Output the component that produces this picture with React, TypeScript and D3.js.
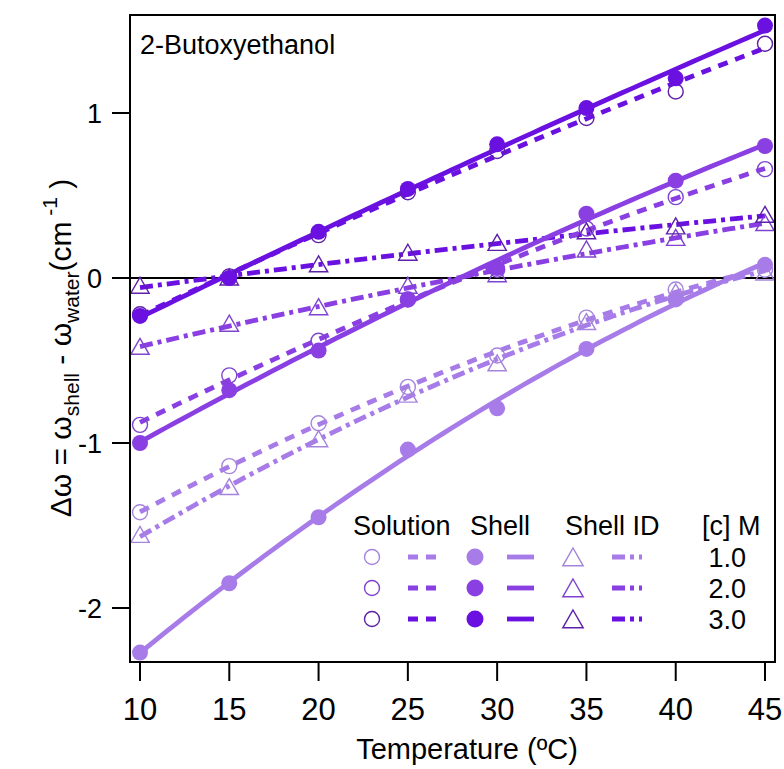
import * as React from "react";
import * as d3 from "d3";

const temps = [10, 15, 20, 25, 30, 35, 40, 45];
const concLabels = ["1.0", "2.0", "3.0"];

const solution1 = [-1.42, -1.14, -0.88, -0.66, -0.47, -0.24, -0.07, 0.05];
const solution2 = [-0.89, -0.59, -0.38, -0.13, 0.05, 0.3, 0.49, 0.66];
const solution3 = [-0.22, 0.01, 0.26, 0.52, 0.77, 0.97, 1.13, 1.42];
const shell1 = [-2.27, -1.85, -1.45, -1.04, -0.79, -0.43, -0.13, 0.08];
const shell2 = [-1.0, -0.68, -0.44, -0.13, 0.06, 0.39, 0.59, 0.8];
const shell3 = [-0.23, 0.0, 0.28, 0.54, 0.81, 1.03, 1.21, 1.53];
const shellId1 = [-1.56, -1.27, -0.98, -0.71, -0.52, -0.27, -0.09, 0.03];
const shellId2 = [-0.42, -0.28, -0.18, -0.05, 0.02, 0.17, 0.24, 0.33];
const shellId3 = [-0.05, 0.0, 0.08, 0.15, 0.21, 0.28, 0.31, 0.38];

const xTicks = [10, 15, 20, 25, 30, 35, 40, 45];
const yTicks = [-2, -1, 0, 1];

const lineColors = ["#a77ce8", "#8a3fe2", "#6a10e0"];
const openColors = ["#a585dc", "#7f44cf", "#5e20a8"];

const FONT = "'Liberation Sans', Arial, sans-serif";
const W = 784;
const H = 769;
const frame = { left: 130, right: 775, top: 15, bottom: 662 };

const x = d3.scaleLinear().domain([10, 45]).range([140, 765]);
const y = d3.scaleLinear().domain([0, 1]).range([278, 113]);

// least squares quadratic through one series
function quadFit(xs: number[], ys: number[]) {
  const s = [0, 0, 0, 0, 0];
  const t = [0, 0, 0];
  xs.forEach((xv, i) => {
    let p = 1;
    for (let k = 0; k < 5; k++) {
      s[k] += p;
      if (k < 3) t[k] += p * ys[i];
      p *= xv;
    }
  });
  const m = [
    [s[0], s[1], s[2], t[0]],
    [s[1], s[2], s[3], t[1]],
    [s[2], s[3], s[4], t[2]],
  ];
  for (let c = 0; c < 3; c++) {
    for (let r = c + 1; r < 3; r++) {
      const f = m[r][c] / m[c][c];
      for (let k = c; k < 4; k++) m[r][k] -= f * m[c][k];
    }
  }
  const b = [0, 0, 0];
  for (let r = 2; r >= 0; r--) {
    let v = m[r][3];
    for (let k = r + 1; k < 3; k++) v -= m[r][k] * b[k];
    b[r] = v / m[r][r];
  }
  return (xv: number) => b[0] + b[1] * xv + b[2] * xv * xv;
}

const fitLine = (ys: number[]) => {
  const f = quadFit(temps, ys);
  const pts = d3.range(10, 45.01, 0.5).map((t) => [t, f(t)] as [number, number]);
  return d3
    .line<[number, number]>()
    .x((d) => x(d[0]))
    .y((d) => y(d[1]))(pts) as string;
};

const DASH = "10 8";
const DASHDOT = "13 5 4 5";
const LW = 4.8;

const triPath = (cx: number, cy: number, s = 9) =>
  `M${cx},${cy - s}L${cx + s * 1.02},${cy + s * 0.78}L${cx - s * 1.02},${cy + s * 0.78}Z`;

export default function App() {
  const solutions = [solution1, solution2, solution3];
  const shells = [shell1, shell2, shell3];
  const shellIds = [shellId1, shellId2, shellId3];

  const legendRows = [557, 588, 619];

  return (
    <svg
      width={W}
      height={H}
      style={{ position: "absolute", left: 0, top: 0, background: "#fff" }}
      fontFamily={FONT}
    >
      <defs>
        <clipPath id="plot">
          <rect x={frame.left} y={frame.top} width={frame.right - frame.left} height={frame.bottom - frame.top} />
        </clipPath>
      </defs>

      {/* zero line */}
      <line x1={112} x2={frame.right} y1={y(0)} y2={y(0)} stroke="#000" strokeWidth={2} />

      <g clipPath="url(#plot)">
        {/* fit lines */}
        {shellIds.map((s, i) => (
          <path key={"sid" + i} d={fitLine(s)} fill="none" stroke={lineColors[i]} strokeWidth={LW} strokeDasharray={DASHDOT} />
        ))}
        {solutions.map((s, i) => (
          <path key={"sol" + i} d={fitLine(s)} fill="none" stroke={lineColors[i]} strokeWidth={LW} strokeDasharray={DASH} />
        ))}
        {shells.map((s, i) => (
          <path key={"sh" + i} d={fitLine(s)} fill="none" stroke={lineColors[i]} strokeWidth={LW} />
        ))}

        {/* markers */}
        {shellIds.map((s, i) =>
          s.map((v, j) => (
            <path key={`t${i}-${j}`} d={triPath(x(temps[j]), y(v))} fill="none" stroke={openColors[i]} strokeWidth={1.4} />
          ))
        )}
        {solutions.map((s, i) =>
          s.map((v, j) => (
            <circle key={`c${i}-${j}`} cx={x(temps[j])} cy={y(v)} r={7.5} fill="none" stroke={openColors[i]} strokeWidth={1.4} />
          ))
        )}
        {shells.map((s, i) =>
          s.map((v, j) => (
            <circle key={`f${i}-${j}`} cx={x(temps[j])} cy={y(v)} r={8} fill={lineColors[i]} />
          ))
        )}
      </g>

      {/* frame */}
      <rect
        x={frame.left}
        y={frame.top}
        width={frame.right - frame.left}
        height={frame.bottom - frame.top}
        fill="none"
        stroke="#000"
        strokeWidth={2}
      />

      {/* x axis */}
      {xTicks.map((t) => (
        <g key={"xt" + t}>
          <line x1={x(t)} x2={x(t)} y1={frame.bottom} y2={frame.bottom + 19} stroke="#000" strokeWidth={2} />
          <text x={x(t)} y={720} fontSize={31} textAnchor="middle">
            {t}
          </text>
        </g>
      ))}
      <text x={467} y={759} fontSize={29} textAnchor="middle">
        Temperature (ºC)
      </text>

      {/* y axis */}
      {yTicks.map((t) => (
        <g key={"yt" + t}>
          <line x1={112} x2={frame.left} y1={y(t)} y2={y(t)} stroke="#000" strokeWidth={2} />
          <text x={102} y={y(t) + 9.5} fontSize={27} textAnchor="end">
            {t}
          </text>
        </g>
      ))}
      <text transform="translate(71,348) rotate(-90)" fontSize={30} textAnchor="middle">
        Δω = ω
        <tspan fontSize={21} dy={8}>shell</tspan>
        <tspan dy={-8}> - ω</tspan>
        <tspan fontSize={21} dy={8}>water</tspan>
        <tspan dy={-8}>(cm</tspan>
        <tspan fontSize={21} dy={-14}> -1</tspan>
        <tspan dy={14}> )</tspan>
      </text>

      <text x={140} y={54} fontSize={27}>
        2-Butoxyethanol
      </text>

      {/* legend */}
      <g fontSize={27}>
        <text x={353} y={535}>Solution</text>
        <text x={470} y={535}>Shell</text>
        <text x={565} y={535}>Shell ID</text>
        <text x={702} y={535}>[c] M</text>
      </g>
      {legendRows.map((ry, i) => (
        <g key={"lg" + i}>
          <circle cx={372} cy={ry} r={7.5} fill="none" stroke={openColors[i]} strokeWidth={1.4} />
          <line x1={408} x2={438} y1={ry} y2={ry} stroke={lineColors[i]} strokeWidth={LW} strokeDasharray={DASH} />
          <circle cx={475} cy={ry} r={8.5} fill={lineColors[i]} />
          <line x1={507} x2={534} y1={ry} y2={ry} stroke={lineColors[i]} strokeWidth={LW} />
          <path d={triPath(573, ry + 1, 10)} fill="none" stroke={openColors[i]} strokeWidth={1.4} />
          <line x1={612} x2={642} y1={ry} y2={ry} stroke={lineColors[i]} strokeWidth={LW} strokeDasharray={DASHDOT} />
          <text x={746} y={ry + 9.5} fontSize={27} textAnchor="end">
            {concLabels[i]}
          </text>
        </g>
      ))}
    </svg>
  );
}
